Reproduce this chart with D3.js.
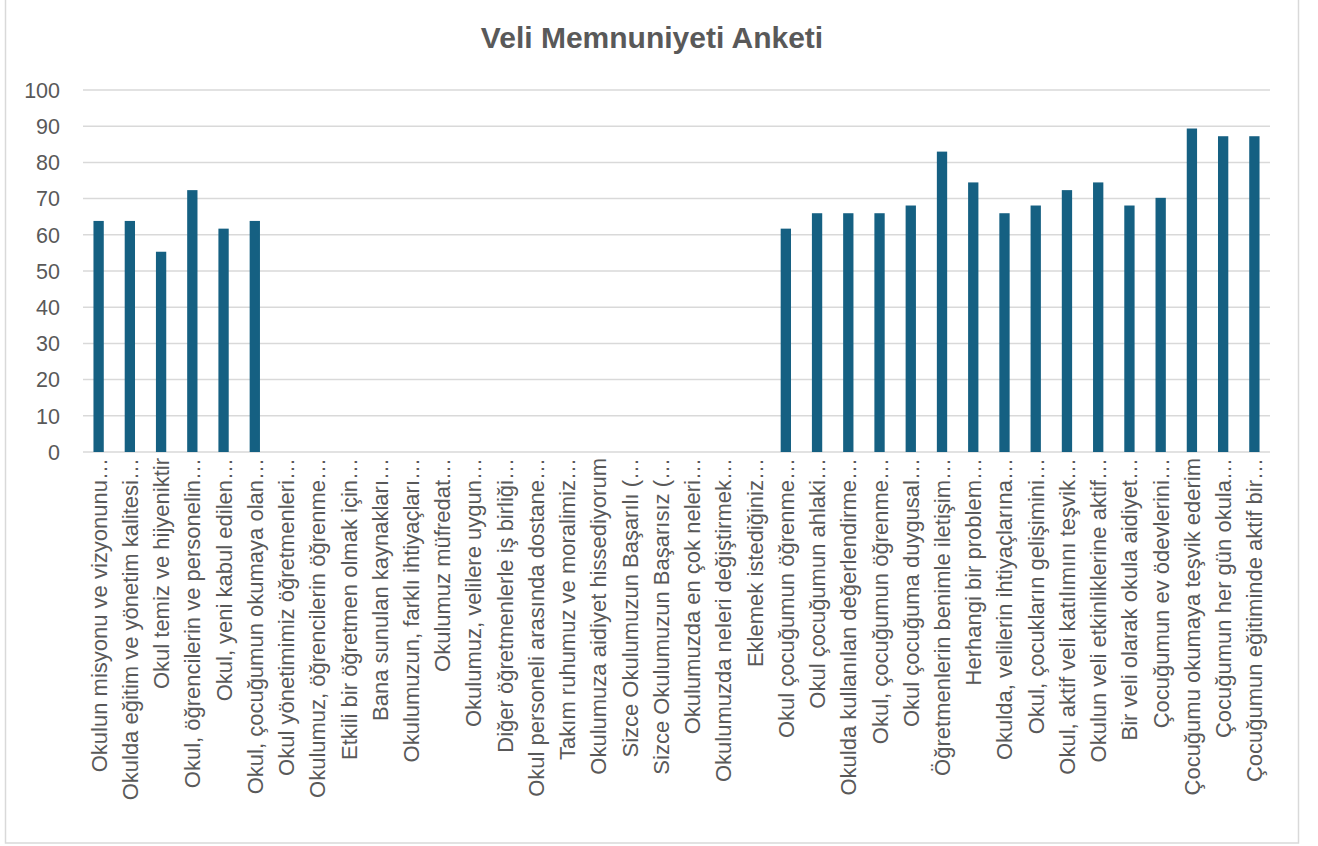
<!DOCTYPE html>
<html>
<head>
<meta charset="utf-8">
<script src="https://cdn.jsdelivr.net/npm/d3@7"></script>
<style>
  body { margin: 0; background: #fff; }
  text { font-family: "Liberation Sans", Arial, sans-serif; }
</style>
</head>
<body>
<div id="chart"></div>
<script>
const categories = [
  'Okulun misyonu ve vizyonunu…',
  'Okulda eğitim ve yönetim kalitesi…',
  'Okul temiz ve hijyeniktir',
  'Okul, öğrencilerin ve personelin…',
  'Okul, yeni kabul edilen…',
  'Okul, çocuğumun okumaya olan…',
  'Okul yönetimimiz öğretmenleri…',
  'Okulumuz, öğrencilerin öğrenme…',
  'Etkili bir öğretmen olmak için…',
  'Bana sunulan kaynakları…',
  'Okulumuzun, farklı ihtiyaçları…',
  'Okulumuz müfredat…',
  'Okulumuz, velilere uygun…',
  'Diğer öğretmenlerle iş birliği…',
  'Okul personeli arasında dostane…',
  'Takım ruhumuz ve moralimiz…',
  'Okulumuza aidiyet hissediyorum',
  'Sizce Okulumuzun Başarılı (…',
  'Sizce Okulumuzun Başarısız (…',
  'Okulumuzda en çok neleri…',
  'Okulumuzda neleri değiştirmek…',
  'Eklemek istediğiniz…',
  'Okul çocuğumun öğrenme…',
  'Okul çocuğumun ahlaki…',
  'Okulda kullanılan değerlendirme…',
  'Okul, çocuğumun öğrenme…',
  'Okul çocuğuma duygusal…',
  'Öğretmenlerin benimle iletişim…',
  'Herhangi bir problem…',
  'Okulda, velilerin ihtiyaçlarına…',
  'Okul, çocukların gelişimini…',
  'Okul, aktif veli katılımını teşvik…',
  'Okulun veli etkinliklerine aktif…',
  'Bir veli olarak okula aidiyet…',
  'Çocuğumun ev ödevlerini…',
  'Çocuğumu okumaya teşvik ederim',
  'Çocuğumun her gün okula…',
  'Çocuğumun eğitiminde aktif bir…'
];

const values = [
  63.83, 63.83, 55.32, 72.34, 61.70, 63.83,
  null, null, null, null, null, null, null, null,
  null, null, null, null, null, null, null, null,
  61.70, 65.96, 65.96, 65.96, 68.09, 82.98, 74.47, 65.96,
  68.09, 72.34, 74.47, 68.09, 70.21, 89.36, 87.23, 87.23
];

const yTicks = [0, 10, 20, 30, 40, 50, 60, 70, 80, 90, 100];
const title = 'Veli Memnuniyeti Anketi';

const W = 1318, H = 846;
const plot = { left: 83, right: 1270, top: 90, bottom: 452 };

const svg = d3.select('#chart')
  .append('svg')
  .attr('width', W)
  .attr('height', H);

// chart frame
svg.append('rect')
  .attr('x', 5.5).attr('y', -2)
  .attr('width', 1293).attr('height', 845)
  .attr('fill', '#fff')
  .attr('stroke', '#d9d9d9')
  .attr('stroke-width', 1.5);

const x = d3.scaleBand()
  .domain(d3.range(categories.length))
  .range([plot.left, plot.right]);

const y = d3.scaleLinear()
  .domain([0, 100])
  .range([plot.bottom, plot.top]);

// gridlines
svg.append('g')
  .selectAll('line')
  .data(yTicks)
  .join('line')
  .attr('x1', plot.left).attr('x2', plot.right)
  .attr('y1', (d) => y(d)).attr('y2', (d) => y(d))
  .attr('stroke', '#d9d9d9')
  .attr('stroke-width', 1.5);

// y labels
svg.append('g')
  .selectAll('text')
  .data(yTicks)
  .join('text')
  .attr('x', 60)
  .attr('y', (d) => y(d))
  .attr('dy', '0.36em')
  .attr('text-anchor', 'end')
  .attr('font-size', 21.5)
  .attr('fill', '#595959')
  .text((d) => d);

// bars
const barW = x.bandwidth() * 0.33;
svg.append('g')
  .selectAll('rect')
  .data(values.map((v, i) => ({ v, i })).filter((d) => d.v != null))
  .join('rect')
  .attr('x', (d) => x(d.i) + (x.bandwidth() - barW) / 2)
  .attr('y', (d) => y(d.v))
  .attr('width', barW)
  .attr('height', (d) => y(0) - y(d.v))
  .attr('fill', '#156082');

// category labels
svg.append('g')
  .selectAll('text')
  .data(categories)
  .join('text')
  .attr('transform', (d, i) => `translate(${x(i) + x.bandwidth() / 2 + 8},${plot.bottom + 6}) rotate(-90)`)
  .attr('text-anchor', 'end')
  .attr('font-size', 22)
  .attr('fill', '#595959')
  .text((d) => d);

svg.append('text')
  .attr('x', 652)
  .attr('y', 48)
  .attr('text-anchor', 'middle')
  .attr('font-size', 30)
  .attr('font-weight', 'bold')
  .attr('fill', '#595959')
  .text(title);
</script>
</body>
</html>
